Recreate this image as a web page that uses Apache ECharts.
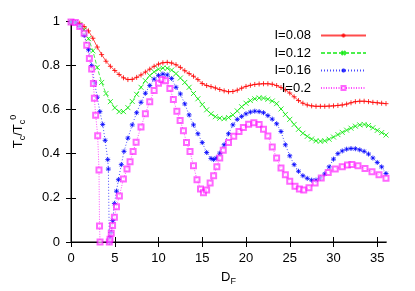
<!DOCTYPE html>
<html>
<head>
<meta charset="utf-8">
<script src="https://cdn.jsdelivr.net/npm/echarts@6/dist/echarts.min.js"></script>
<style>html,body{margin:0;padding:0;background:#fff;}#c{width:415px;height:291px;}</style>
</head>
<body>
<div id="c"></div>
<script>
// ---- data ----
var seriesNames = ['I=0.08', 'I=0.12', 'I=0.16', 'I=0.2'];
var xTicks = [0, 5, 10, 15, 20, 25, 30, 35];
var yTicks = [0, 0.2, 0.4, 0.6, 0.8, 1];

var dGrid = [0,0.5,1,1.5,2,2.5,3,3.5,4,4.5,5,5.5,6,6.5,7,7.5,8,8.5,9,9.5,10,10.5,11,11.5,12,12.5,13,13.5,14,14.5,15,15.5,16,16.5,17,17.5,18,18.5,19,19.5,20,20.5,21,21.5,22,22.5,23,23.5,24,24.5,25,25.5,26,26.5,27,27.5,28,28.5,29,29.5,30,30.5,31,31.5,32,32.5,33,33.5,34,34.5,35,35.5,36];

var tc008 = [0.995,0.993,0.99,0.975,0.955,0.922,0.882,0.848,0.818,0.795,0.776,0.758,0.743,0.735,0.736,0.745,0.756,0.769,0.782,0.795,0.805,0.811,0.813,0.81,0.802,0.79,0.775,0.762,0.75,0.735,0.717,0.708,0.703,0.697,0.69,0.684,0.68,0.681,0.687,0.696,0.704,0.709,0.713,0.715,0.716,0.716,0.714,0.708,0.699,0.688,0.674,0.657,0.64,0.628,0.62,0.616,0.614,0.614,0.614,0.615,0.616,0.618,0.62,0.624,0.63,0.635,0.637,0.637,0.635,0.632,0.63,0.628,0.626];

var tc012 = [0.995,0.993,0.983,0.96,0.92,0.865,0.79,0.722,0.672,0.635,0.607,0.59,0.59,0.608,0.636,0.668,0.7,0.73,0.753,0.77,0.782,0.787,0.786,0.778,0.762,0.742,0.722,0.7,0.672,0.648,0.622,0.598,0.58,0.567,0.56,0.558,0.563,0.575,0.593,0.612,0.628,0.64,0.648,0.652,0.651,0.646,0.638,0.626,0.602,0.577,0.555,0.532,0.51,0.492,0.478,0.466,0.458,0.456,0.458,0.465,0.475,0.486,0.496,0.506,0.515,0.524,0.53,0.532,0.527,0.517,0.505,0.495,0.484];

var d016 = [0,0.5,1,1.5,2,2.36,2.7,3,3.3,3.62,3.9,4.2,4.27,4.38,4.46,4.58,4.77,4.96,5.2,5.42,5.75,6.06,6.5,7,7.5,8,8.5,9,9.5,10,10.5,11,11.5,12,12.5,13,13.5,14,14.5,15,15.5,16,16.3,16.6,17,17.5,18,18.5,19,19.5,20,20.5,21,21.5,22,22.5,23,23.5,24,24.5,25,25.5,26,26.5,27,27.5,28,28.5,29,29.5,30,30.5,31,31.5,32,32.5,33,33.5,34,34.5,35,35.5,36];
var tc016 = [0.995,0.993,0.975,0.935,0.87,0.798,0.72,0.655,0.59,0.532,0.46,0.373,0.33,0,0.018,0.043,0.097,0.174,0.23,0.282,0.35,0.41,0.47,0.53,0.585,0.632,0.673,0.708,0.737,0.754,0.76,0.756,0.74,0.7,0.67,0.625,0.575,0.53,0.49,0.45,0.405,0.378,0.373,0.38,0.402,0.44,0.49,0.53,0.555,0.568,0.58,0.588,0.592,0.59,0.585,0.572,0.556,0.535,0.5,0.44,0.39,0.35,0.32,0.3,0.288,0.28,0.28,0.29,0.308,0.34,0.375,0.4,0.412,0.42,0.423,0.422,0.417,0.41,0.398,0.38,0.36,0.34,0.31];

var d02 = [0,0.5,1,1.5,1.8,2.1,2.36,2.56,2.67,2.82,3.05,3.2,3.26,3.32,4.38,4.46,4.6,4.75,4.96,5.2,5.53,5.99,6.4,6.75,7.1,7.44,8,8.5,9,9.5,10,10.4,10.8,11.3,11.7,12.1,12.47,12.85,13.2,13.6,14,14.4,14.8,15.14,15.5,15.9,16.3,16.67,17,17.4,18,18.6,19.2,19.7,20.3,20.9,21.5,22,22.5,23,23.5,24,24.5,25,25.6,26.1,26.6,27.2,27.9,28.6,29.4,30.2,31,31.6,32.1,32.8,33.6,34.4,35.2,36];
var tc02 = [0.995,0.993,0.975,0.945,0.89,0.83,0.783,0.717,0.65,0.574,0.481,0.326,0.072,0,0,0.013,0.04,0.075,0.112,0.16,0.208,0.285,0.33,0.363,0.41,0.451,0.52,0.58,0.635,0.685,0.718,0.735,0.73,0.695,0.645,0.592,0.55,0.503,0.45,0.41,0.345,0.282,0.24,0.223,0.235,0.267,0.3,0.341,0.38,0.415,0.45,0.478,0.5,0.518,0.533,0.54,0.532,0.51,0.48,0.43,0.38,0.335,0.304,0.275,0.252,0.24,0.235,0.245,0.267,0.29,0.314,0.33,0.341,0.348,0.351,0.345,0.333,0.318,0.304,0.289];

function pairs(xs, ys) { return xs.map(function (x, i) { return [x, ys[i]]; }); }

var colors = ['#ff0000', '#00e800', '#0000ff', '#ff00ff'];
var symbols = [
  'path://M0,5L10,5M5,0L5,10',
  'path://M0,0L10,10M0,10L10,0',
  'path://M0,5L10,5M5,0L5,10M1.5,1.5L8.5,8.5M1.5,8.5L8.5,1.5',
  'emptyRect'
];
var dashes = ['solid', [4, 2], [1, 2], [1, 1.5]];
var dataSets = [pairs(dGrid, tc008), pairs(dGrid, tc012), pairs(d016, tc016), pairs(d02, tc02)];

var font = 'Liberation Sans, Arial, sans-serif';

var series = seriesNames.map(function (n, i) {
  return {
    name: n,
    type: 'line',
    xAxisIndex: 0, yAxisIndex: 0,
    data: dataSets[i],
    symbol: symbols[i],
    symbolSize: i === 3 ? 5 : 5,
    showSymbol: true,
    smooth: false,
    animation: false,
    clip: false,
    lineStyle: { color: colors[i], width: 1, type: dashes[i], opacity: 0.7 },
    itemStyle: { color: colors[i], borderColor: colors[i], borderWidth: 1, opacity: i === 3 ? 0.6 : 0.8 },
    emphasis: { disabled: true }
  };
});

var chart = echarts.init(document.getElementById('c'), null, { renderer: 'canvas' });
chart.setOption({
  backgroundColor: '#fff',
  animation: false,
  grid: { left: 71, top: 21, width: 315, height: 226, containLabel: false },
  legend: {
    data: seriesNames,
    orient: 'vertical',
    align: 'right',
    right: 43,
    top: 24,
    itemWidth: 45,
    itemHeight: 5,
    itemGap: 4.5,
    textStyle: { fontFamily: font, fontSize: 13, color: '#000', padding: [0, 5, 0, 0] },
    selectedMode: false
  },
  xAxis: [{
    type: 'value', min: 0, max: 36, interval: 5, position: 'bottom',
    name: '{a|D}{b|F}', nameLocation: 'middle', nameGap: 26,
    nameTextStyle: { rich: {
      a: { fontFamily: font, fontSize: 13, color: '#000', lineHeight: 18, verticalAlign: 'middle' },
      b: { fontFamily: font, fontSize: 9, color: '#000', lineHeight: 10, verticalAlign: 'bottom' }
    } },
    axisLine: { show: true, lineStyle: { color: '#808080', width: 2 } },
    axisTick: { show: true, inside: true, length: 5, lineStyle: { color: '#000' }, customValues: xTicks },
    axisLabel: { show: true, margin: 10, fontFamily: font, fontSize: 13, color: '#000', customValues: xTicks },
    splitLine: { show: false }
  }, {
    type: 'value', min: 0, max: 36, interval: 5, position: 'top',
    axisLine: { show: true, lineStyle: { color: '#000', width: 1 } },
    axisTick: { show: true, inside: true, length: 5, lineStyle: { color: '#000' }, customValues: xTicks },
    axisLabel: { show: false },
    splitLine: { show: false }
  }],
  yAxis: [{
    type: 'value', min: 0, max: 1, interval: 0.2, position: 'left',
    name: '{a|T}{b|c}{a|/T}{b|c}{c|0}', nameLocation: 'middle', nameGap: 44, nameRotate: 90,
    nameTextStyle: { rich: {
      a: { fontFamily: font, fontSize: 13, color: '#000', lineHeight: 18, verticalAlign: 'middle' },
      b: { fontFamily: font, fontSize: 9, color: '#000', lineHeight: 10, verticalAlign: 'bottom' },
      c: { fontFamily: font, fontSize: 9, color: '#000', lineHeight: 10, verticalAlign: 'top' }
    } },
    axisLine: { show: true, lineStyle: { color: '#808080', width: 2 } },
    axisTick: { show: true, inside: true, length: 5, lineStyle: { color: '#000' } },
    axisLabel: { show: true, margin: 11, fontFamily: font, fontSize: 13, color: '#000',
      formatter: function (v) { return String(Math.round(v * 10) / 10); } },
    splitLine: { show: false }
  }, {
    type: 'value', min: 0, max: 1, interval: 0.2, position: 'right',
    axisLine: { show: true, lineStyle: { color: '#000', width: 1 } },
    axisTick: { show: true, inside: true, length: 5, lineStyle: { color: '#000' } },
    axisLabel: { show: false },
    splitLine: { show: false }
  }],
  series: series
});
</script>
</body>
</html>
